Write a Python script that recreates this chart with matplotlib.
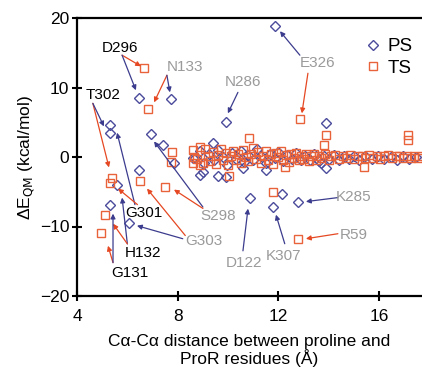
import matplotlib
matplotlib.use("Agg")
import matplotlib.pyplot as plt
from matplotlib.lines import Line2D

plt.rcParams['font.family'] = ['Liberation Sans', 'DejaVu Sans']

# ---- data: PS (diamonds) ----
ps_x = [11.85, 6.46, 7.73, 9.9, 13.9, 5.31, 5.31, 6.95, 7.43, 7.85, 6.46, 5.6, 5.31, 6.07,
        10.87, 11.78, 12.77, 12.13, 9.4, 9.6, 9.0, 9.9, 10.6, 11.5, 13.9, 13.7, 8.6, 8.9,
        8.7, 8.9, 9.05, 9.25, 9.45, 9.6, 9.8, 9.95, 10.15, 10.3, 10.5, 10.65, 10.8, 11.0,
        11.15, 11.3, 11.5, 11.65, 11.85, 12.0, 12.2, 12.35, 12.55, 12.7, 12.9, 13.05, 13.25,
        13.4, 13.6, 13.8, 14.0, 14.2, 14.4, 14.6, 14.8, 15.0, 15.2, 15.45, 15.7, 15.95, 16.2,
        16.45, 16.7, 16.95, 17.2, 17.45]
ps_y = [18.9, 8.44, 8.3, 5.0, 4.9, 4.6, 3.4, 3.3, 1.7, -0.9, -1.8, -4.0, -6.85, -9.5,
        -5.84, -7.14, -6.42, -5.27, 2.0, -2.8, -2.1, -2.9, -1.6, -1.9, -1.6, -0.9, -0.2, -2.6,
        -0.2, 0.8, -0.9, 0.4, -0.4, 1.0, 0.0, -1.2, 0.6, -0.3, 0.9, -0.7, 0.3, -0.5,
        1.1, 0.1, -0.9, 0.5, -0.2, 0.7, -0.6, 0.3, -0.3, 0.6, -0.5, 0.2, -0.4,
        0.4, -0.6, 0.2, -0.3, 0.3, -0.4, 0.1, -0.3, 0.2, -0.4, 0.1, -0.3, 0.1, -0.3,
        0.0, -0.4, 0.1, -0.3, 0.0]

# ---- data: TS (squares) ----
ts_x = [6.66, 6.82, 12.85, 10.83, 13.88, 13.8, 17.13, 17.13, 5.39, 5.31, 6.5, 7.49, 5.11,
        4.95, 11.78, 12.77, 10.03, 12.25, 15.4, 7.77, 7.73, 8.6, 8.9, 8.65, 8.62, 8.9,
        8.75, 9.0, 9.1, 9.2, 9.3, 9.4, 9.5, 9.6, 9.7, 9.8, 9.9, 10.0, 10.1, 10.2, 10.3,
        10.4, 10.5, 10.6, 10.7, 10.8, 10.9, 11.0, 11.1, 11.2, 11.3, 11.4, 11.5, 11.6, 11.7,
        11.8, 11.9, 12.0, 12.1, 12.2, 12.3, 12.4, 12.5, 12.6, 12.7, 12.8, 12.9, 13.0, 13.1,
        13.2, 13.3, 13.4, 13.5, 13.6, 13.7, 13.85, 14.0, 14.1, 14.25, 14.4, 14.55, 14.7,
        14.85, 15.0, 15.15, 15.3, 15.45, 15.6, 15.75, 15.9, 16.05, 16.2, 16.35, 16.5, 16.65,
        16.8, 16.95, 17.1, 17.25, 17.4, 17.55, 17.7]
ts_y = [12.77, 6.85, 5.4, 2.8, 3.1, 1.66, 3.1, 2.38, -2.96, -3.8, -3.4, -4.26, -8.4,
        -11.0, -4.98, -11.76, -2.67, -1.5, -1.5, 0.65, -0.65, 1.0, 1.4, 0.0, -0.9, -1.1,
        -0.3, -0.8, 1.2, 0.2, -0.6, 0.7, -1.0, 0.3, 1.1, -0.4, 0.6, -1.2, 0.2, 0.9, -0.5,
        0.4, -0.9, 1.0, 0.0, -0.6, 0.5, 1.3, -0.3, 0.7, -0.8, 0.2, 0.9, -0.5, 0.4,
        -1.0, 0.6, 0.0, 0.8, -0.4, 0.3, -0.7, 0.5, -0.2, 0.6, -0.5, 0.2, -0.3, 0.4,
        -0.6, 0.1, 0.5, -0.4, 0.2, -0.2, 0.4, -0.5, 0.1, 0.3, -0.3, 0.2, -0.1,
        0.3, -0.3, 0.1, 0.2, -0.2, 0.3, -0.1, 0.2, -0.3, 0.1, 0.3, -0.2, 0.1,
        0.2, -0.2, 0.1, -0.1, 0.2, -0.1, 0.1]

# ---- annotations: label, text position, colour, arrows (start, tip, colour) ----
PS_C = '#4b4b9c'
TS_C = '#e8623a'
ARB = '#3c3c8e'
ARR = '#e54822'
GRAY = '#9a9a9a'
labels = [
    ("D296", (5.71, 15.66), 'black', [((5.79, 14.65), (6.54, 13.06), ARR), ((5.79, 14.65), (6.34, 9.6), ARB)]),
    ("N133", (8.29, 12.9), GRAY, [((7.57, 11.76), (7.06, 7.86), ARR), ((7.57, 11.76), (7.69, 9.3), ARB)]),
    ("T302", (5.03, 8.87), 'black', [((4.63, 7.72), (5.27, -1.5), ARR), ((4.63, 7.72), (5.07, 4.4), ARB)]),
    ("E326", (13.56, 13.5), GRAY, [((12.85, 14.65), (12.06, 18.1), ARB), ((13.17, 12.05), (12.93, 6.28), ARR)]),
    ("N286", (10.59, 10.75), GRAY, [((10.39, 9.3), (9.99, 6.28), ARB)]),
    ("S298", (9.6, -8.44), GRAY, [((9.0, -7.2), (7.06, 2.24), ARB), ((9.0, -7.4), (7.85, -4.69), ARR)]),
    ("G303", (9.04, -12.05), GRAY, [((8.2, -11.76), (6.38, -9.88), ARB), ((8.3, -11.3), (6.78, -4.55), ARR)]),
    ("G301", (6.66, -8.0), 'black', [((6.3, -6.85), (5.59, 3.5), ARB), ((6.4, -6.85), (5.63, -4.55), ARR)]),
    ("H132", (6.62, -13.8), 'black', [((6.0, -12.5), (5.79, -5.84), ARB), ((6.0, -12.5), (5.43, -9.6), ARR)]),
    ("G131", (6.1, -16.7), 'black', [((5.43, -15.2), (5.23, -12.77), ARR), ((5.43, -15.2), (5.43, -8.15), ARB)]),
    ("D122", (10.63, -15.2), GRAY, [((10.59, -13.5), (10.79, -7.43), ARB)]),
    ("K307", (12.21, -14.2), GRAY, [((12.25, -12.48), (11.9, -8.3), ARB)]),
    ("K285", (14.99, -5.8), GRAY, [((14.36, -5.84), (13.09, -6.42), ARB)]),
    ("R59", (14.99, -11.2), GRAY, [((14.36, -11.04), (13.09, -11.76), ARR)]),
]

fig = plt.figure(figsize=(4.22, 3.81), dpi=100)
ax = fig.add_axes([77/422, 1-296/381, 345/422, 278/381])

ax.plot(ps_x, ps_y, linestyle='none', marker='D', markersize=4.6, mfc='none',
        mec=PS_C, mew=1.0, zorder=3)
ax.plot(ts_x, ts_y, linestyle='none', marker='s', markersize=5.4, mfc='none',
        mec=TS_C, mew=1.0, zorder=4)

for name, pos, col, arrows in labels:
    ax.text(pos[0], pos[1], name, color=col, fontsize=11, ha='center', va='center', zorder=6)
    for start, tip, ac in arrows:
        ax.annotate('', xy=tip, xytext=start,
                    arrowprops=dict(arrowstyle='-|>', color=ac, lw=0.9,
                                    mutation_scale=7, shrinkA=0, shrinkB=0),
                    zorder=5)

ax.set_xlim(4, 17.7)
ax.set_ylim(-20, 20)
ax.set_xticks([4, 8, 12, 16])
ax.set_yticks([-20, -10, 0, 10, 20])
ax.tick_params(axis='both', direction='inout', length=7, width=1.5, labelsize=12.5, pad=2)
ax.tick_params(axis='x', pad=6)
for s in ['left', 'bottom', 'top']:
    ax.spines[s].set_linewidth(1.6)
ax.spines['right'].set_visible(False)

ax.set_xlabel("C\u03b1-C\u03b1 distance between proline and\nProR residues (\u00c5)",
              fontsize=12.5, linespacing=1.0, labelpad=7)
ax.set_ylabel("\u0394E$_{\\mathrm{QM}}$ (kcal/mol)", fontsize=12.5, labelpad=2)

handles = [Line2D([], [], linestyle='none', marker='D', markersize=4.6, mfc='none', mec=PS_C, mew=1.0),
           Line2D([], [], linestyle='none', marker='s', markersize=5.4, mfc='none', mec=TS_C, mew=1.0)]
ax.legend(handles, ['PS', 'TS'], loc='upper right', bbox_to_anchor=(0.995, 0.955),
          frameon=False, fontsize=13.5, handlelength=0.8, handletextpad=0.4,
          labelspacing=0.25, borderaxespad=0)

fig.savefig('out.png', dpi=100)
